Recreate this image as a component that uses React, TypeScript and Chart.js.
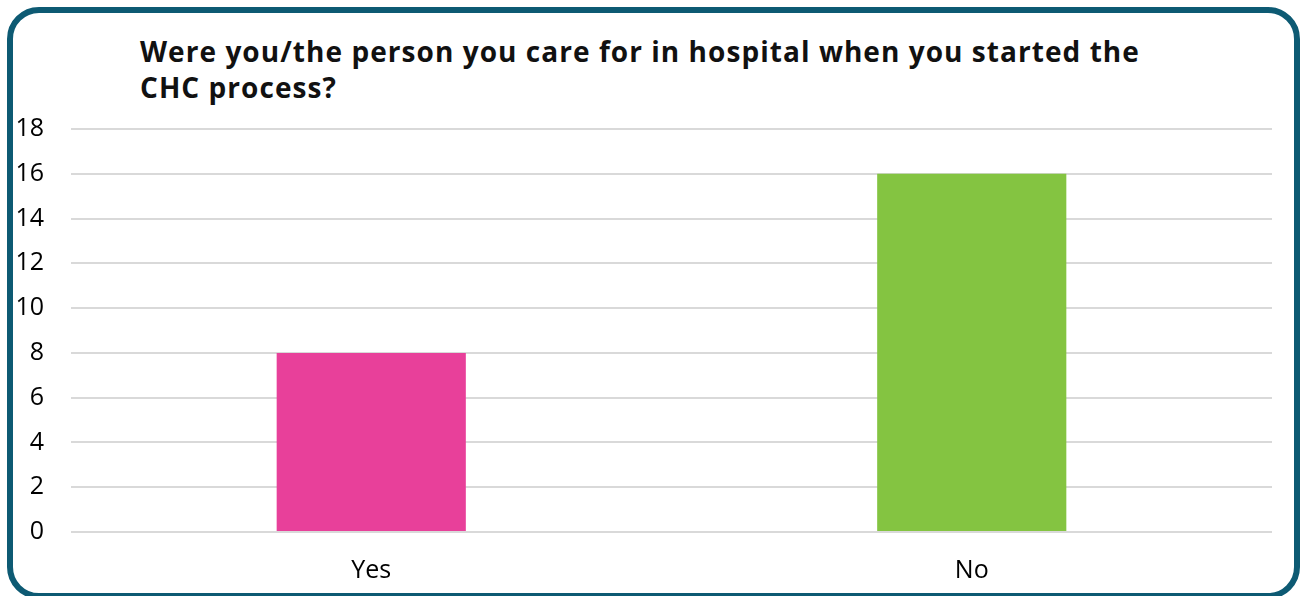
import React, { useEffect, useRef } from "react";
import { Chart, registerables } from "chart.js";

Chart.register(...registerables);

const categories = ["Yes", "No"];
const counts = [8, 16];
const barColors = ["#E8409A", "#84C441"];
const titleLines = [
  "Were you/the person you care for in hospital when you started the",
  "CHC process?",
];
const yMin = 0;
const yMax = 18;
const yStep = 2;

export default function App() {
  const canvasRef = useRef<HTMLCanvasElement | null>(null);

  useEffect(() => {
    if (!canvasRef.current) return;
    const chart = new Chart(canvasRef.current, {
      type: "bar",
      data: {
        labels: categories,
        datasets: [
          {
            data: counts,
            backgroundColor: barColors,
            borderWidth: 0,
            barPercentage: 0.315,
            categoryPercentage: 1,
          },
        ],
      },
      options: {
        animation: false,
        responsive: false,
        maintainAspectRatio: false,
        layout: { padding: { top: 129, right: 29, bottom: 0, left: 0 } },
        plugins: {
          legend: { display: false },
          title: { display: false },
          tooltip: { enabled: false },
        },
        scales: {
          x: {
            grid: { display: false, drawTicks: false },
            border: { display: false },
            ticks: {
              color: "#000000",
              font: { family: "'Open Sans'", size: 25 },
              padding: 24,
            },
            afterFit: (scale: any) => {
              scale.height = 64;
            },
          },
          y: {
            min: yMin,
            max: yMax,
            grid: { color: "#d9d9d9", lineWidth: 2, drawTicks: false },
            border: { display: false },
            ticks: {
              stepSize: yStep,
              color: "#000000",
              font: { family: "'Open Sans'", size: 25 },
              padding: 27,
            },
            afterFit: (scale: any) => {
              scale.width = 71;
            },
          },
        },
      },
    });
    return () => chart.destroy();
  }, []);

  return (
    <div
      style={{
        position: "fixed",
        left: 0,
        top: 0,
        width: 1301,
        height: 596,
        overflow: "hidden",
        background: "#ffffff",
      }}
    >
      <div
        style={{
          position: "absolute",
          left: 7,
          top: 7,
          width: 1293,
          height: 592,
          boxSizing: "border-box",
          border: "6px solid #0d5a73",
          borderRadius: 32,
        }}
      />
      <div
        style={{
          position: "absolute",
          left: 140,
          top: 33,
          fontFamily: "'Open Sans'",
          fontWeight: 700,
          fontSize: 28,
          letterSpacing: "1.05px",
          lineHeight: "36px",
          color: "#111111",
          whiteSpace: "nowrap",
        }}
      >
        {titleLines.map((l, i) => (
          <div key={i}>{l}</div>
        ))}
      </div>
      <canvas
        ref={canvasRef}
        width={1301}
        height={596}
        style={{ position: "absolute", left: 0, top: 0 }}
      />
    </div>
  );
}
